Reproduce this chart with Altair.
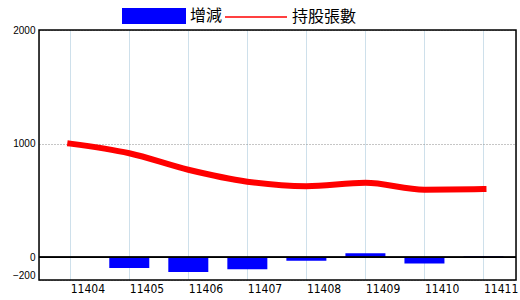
import altair as alt
import pandas as pd

months = ["11404", "11405", "11406", "11407", "11408", "11409", "11410", "11411"]
change = [None, -95, -130, -105, -30, 35, -55, 8]
holdings = [1000, 915, 770, 665, 625, 655, 595, 600]
y_ticks = [-200, 0, 1000, 2000]

df = pd.DataFrame({"month": months, "change": change, "holdings": holdings})

xscale = alt.Scale(type="point", padding=0.54, align=0.49)
xaxis = alt.Axis(
    title=None, labelAlign="left", labelOffset=0, labelPadding=3,
    labelFont="Liberation Sans Narrow, DejaVu Sans Condensed, sans-serif",
    labelFontSize=12, labelColor="#000", labelAngle=0,
    grid=True, gridColor="#9cc0d6", gridDash=[1, 1], gridWidth=1,
    ticks=False, domain=False,
    labelOverlap=False, labelBound=False, labelFlush=False,
)
yscale = alt.Scale(domain=[-200, 2000], nice=False, zero=False)
yaxis = alt.Axis(
    title=None, values=y_ticks, format="d", labelPadding=4, ticks=False,
    domain=False,
    labelFont="Liberation Sans, Arial, sans-serif", labelFontSize=10, labelColor="#000",
    labelBaseline={"condition": {"test": "datum.value < -100", "value": "bottom"}, "value": "middle"},
    labelOverlap=False, labelBound=False, labelFlush=False,
    grid=True, gridColor="#8c8c8c", gridDash=[1, 2], gridWidth=1,
)

common_legend = dict(
    orient="none", direction="horizontal", title=None, padding=0,
    labelFont="Noto Sans CJK TC", labelFontSize=16, labelColor="#000",
    labelOffset=4, labelLimit=200,
)

base = alt.Chart(df)

bars = base.transform_filter("datum.change != null").transform_calculate(
    series="'增減'"
).mark_bar(size=40, opacity=1).encode(
    x=alt.X("month:O", scale=xscale, axis=xaxis, sort=months),
    y=alt.Y("change:Q", scale=yscale, axis=yaxis),
    fill=alt.Fill(
        "series:N",
        scale=alt.Scale(domain=["增減"], range=["#0000ff"]),
        legend=alt.Legend(
            legendX=83, legendY=-46, symbolSize=4096,
            symbolType="M-1,-0.25H1V0.25H-1Z", symbolStrokeWidth=0,
            symbolOpacity=1, **common_legend,
        ),
    ),
)

zero = base.mark_rule(color="#000", strokeWidth=1.2).encode(y=alt.datum(0))

line = base.transform_calculate(series="'持股張數'").mark_line(
    strokeWidth=6, interpolate="monotone", strokeCap="square"
).encode(
    x=alt.X("month:O", scale=xscale, sort=months),
    y=alt.Y("holdings:Q", scale=yscale),
    stroke=alt.Stroke(
        "series:N",
        scale=alt.Scale(domain=["持股張數"], range=["#ff0000"]),
        legend=alt.Legend(
            legendX=185, legendY=-45, symbolSize=3844, symbolType="stroke",
            symbolStrokeWidth=1.5, symbolOpacity=1, **common_legend,
        ),
    ),
)

frame = base.transform_filter("datum.month == '11404'").mark_rect(
    fill=None, stroke="#000", strokeWidth=1.5
).encode(x=alt.value(0), x2=alt.value(477), y=alt.value(0), y2=alt.value(250))

chart = alt.layer(bars, zero, line, frame).properties(
    width=477, height=250,
    autosize=alt.AutoSizeParams(type="none"),
    padding={"left": 39, "top": 30, "right": 4, "bottom": 20},
).configure_view(stroke="#000", strokeWidth=1.5).configure(background="#ffffff")

chart.save("out.html", embed_options={"renderer": "svg", "actions": False})
